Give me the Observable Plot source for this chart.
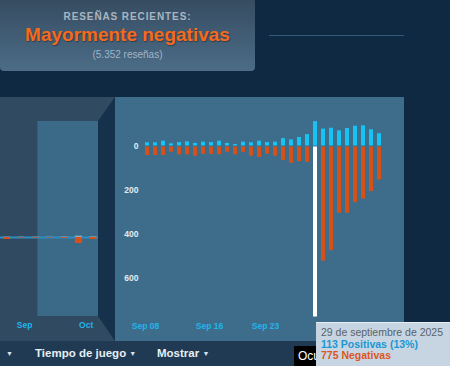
<!DOCTYPE html>
<html>
<head>
<meta charset="utf-8">
<script src="https://cdn.jsdelivr.net/npm/d3@7"></script>
<script src="https://cdn.jsdelivr.net/npm/@observablehq/plot@0.6"></script>
<style>
  html, body { margin: 0; padding: 0; }
  body { width: 450px; height: 366px; overflow: hidden; position: relative; background: #0e2941; font-family: Arial, "Liberation Sans", sans-serif; }
  .abs { position: absolute; }
  #header { left: 0; top: -4px; width: 255px; height: 75px; border-radius: 4px;
    background: linear-gradient(to bottom, #354b5f, #4c6c87); text-align: center; }
  #h1 { position: absolute; left: 0; right: 0; top: 15px; font-size: 10px; font-weight: bold; letter-spacing: 0.9px; color: #a9b6c1; }
  #h2 { position: absolute; left: 0; right: 0; top: 28px; font-size: 19px; font-weight: bold; color: #f56a1c; text-shadow: 1px 1px 1px rgba(0,0,0,0.35); }
  #h3 { position: absolute; left: 0; right: 0; top: 53px; font-size: 10px; color: #9fb5c8; }
  #hline { left: 269px; top: 35px; width: 135px; height: 1px; background: #2e5a7c; }
  #leftbg { left: 0; top: 97px; width: 115px; height: 244px; background: #2f4a61; }
  #trap { left: 98px; top: 97px; width: 17px; height: 244px; background: #15314c;
    clip-path: polygon(0px 24px, 17px 0px, 17px 244px, 0px 219px); }
  #overview { left: 0; top: 97px; }
  #main { left: 115px; top: 97px; }
  #toolbar { left: 0; top: 341px; width: 450px; height: 25px; background: #1f3a52; color: #e8eef3; font-size: 11.5px; }
  #toolbar span { position: absolute; top: 6px; white-space: nowrap; font-weight: bold; }
  .arr { font-size: 7px; color: #d8e2ea; vertical-align: 1px; }
  #ocu { left: 294px; top: 346px; width: 30px; height: 20px; background: #000; color: #fff; font-size: 12px; }
  #ocu span { position: absolute; left: 4px; top: 3px; }
  #tip { left: 316px; top: 322px; width: 134px; height: 44px; background: #c6d5e1; border-top: 1px solid #e6eef4;
    box-sizing: border-box; padding: 4px 0 0 5px; font-size: 10.5px; line-height: 11.5px; white-space: nowrap; }
  #tip .d { color: #58636d; }
  #tip .p { color: #1b97d4; font-weight: bold; }
  #tip .n { color: #dd571c; font-weight: bold; }
  .mainplot text { font-weight: bold; }
  .ovplot text { font-weight: bold; }
</style>
</head>
<body>
<div id="header" class="abs">
  <div id="h1"></div>
  <div id="h2"></div>
  <div id="h3"></div>
</div>
<div id="hline" class="abs"></div>
<div id="leftbg" class="abs"></div>
<div id="overview" class="abs"></div>
<div id="trap" class="abs"></div>
<div id="main" class="abs"></div>
<div id="toolbar" class="abs"></div>
<div id="ocu" class="abs"><span>Ocu</span></div>
<div id="tip" class="abs"></div>
<script>
// ---- Texts ----
const headerLabel = "RESEÑAS RECIENTES:";
const headerRating = "Mayormente negativas";
const headerCount = "(5.352 reseñas)";
const toolbarItems = ["", "Tiempo de juego", "Mostrar"];
const monthsEs = ["enero","febrero","marzo","abril","mayo","junio","julio","agosto","septiembre","octubre","noviembre","diciembre"];

// ---- Daily data (main chart) ----
const dates = ["2025-09-08","2025-09-09","2025-09-10","2025-09-11","2025-09-12","2025-09-13","2025-09-14",
  "2025-09-15","2025-09-16","2025-09-17","2025-09-18","2025-09-19","2025-09-20","2025-09-21",
  "2025-09-22","2025-09-23","2025-09-24","2025-09-25","2025-09-26","2025-09-27","2025-09-28",
  "2025-09-29","2025-09-30","2025-10-01","2025-10-02","2025-10-03","2025-10-04","2025-10-05",
  "2025-10-06","2025-10-07"];
const positive = [17,17,24,12,18,21,14,20,18,24,14,9,20,17,24,18,20,36,30,41,54,113,79,83,71,82,92,94,76,58];
const negative = [41,41,41,26,38,38,44,36,36,38,26,38,27,44,50,35,44,64,76,69,72,775,521,473,303,303,255,239,205,152];
const highlightDate = "2025-09-29";
const xTicks = ["2025-09-08","2025-09-16","2025-09-23"];
const xTickLabels = ["Sep 08","Sep 16","Sep 23"];
const yTicks = [0, 200, 400, 600];

// ---- Overview (weekly) ----
const overviewWeeks = ["2025-08-24","2025-08-31","2025-09-07","2025-09-14","2025-09-21","2025-09-28","2025-10-05"];
const overviewPositive = [150, 110, 120, 120, 200, 600, 250];
const overviewNegative = [900, 250, 270, 250, 380, 2700, 900];
const selection = ["2025-09-08", "2025-10-08"];
const overviewTicks = ["2025-09-01", "2025-10-01"];
const overviewTickLabels = ["Sep", "Oct"];

document.getElementById("h1").textContent = headerLabel;
document.getElementById("h2").textContent = headerRating;
document.getElementById("h3").textContent = headerCount;

// ---- Main chart ----
const rows = dates.map((d, i) => ({date: d, pos: positive[i], neg: negative[i]}));
const main = Plot.plot({
  width: 289, height: 244,
  marginLeft: 25.5, marginRight: 18, marginTop: 5, marginBottom: 19,
  style: {background: "#3e6d8c", fontFamily: "Arial, 'Liberation Sans', sans-serif", overflow: "visible"},
  x: {type: "band", domain: dates, paddingInner: 0.47, paddingOuter: 0.25, label: null},
  y: {domain: [-800, 200], label: null},
  marks: [
    Plot.barY(rows, {x: "date", y: "pos", fill: "#18c3f3", insetBottom: 0.5}),
    Plot.barY(rows.filter(r => r.date !== highlightDate), {x: "date", y: r => -r.neg, fill: "#d4511a", insetTop: 0.5}),
    Plot.barY(rows.filter(r => r.date === highlightDate), {x: "date", y: r => -r.neg, fill: "#ffffff", insetTop: 0.5}),
    Plot.axisY({ticks: yTicks.map(v => -v), tickFormat: v => String(Math.abs(v)), tickSize: 0, tickPadding: 2.5,
      fill: "#e4ebf0", fontSize: 8.5, label: null}),
    Plot.axisX({ticks: xTicks, tickFormat: d => xTickLabels[xTicks.indexOf(d)], tickSize: 0, tickPadding: 0,
      fill: "#1fb5ec", fontSize: 8.5, dx: -2, label: null})
  ]
});
main.classList.add("mainplot");
document.getElementById("main").appendChild(main);

// ---- Overview chart ----
const dayMs = 86400000;
const ovStart = new Date(Date.UTC(2025, 8, 1) - 11.22 * dayMs);
const ovEnd = new Date(Date.UTC(2025, 9, 8));
const ovRows = overviewWeeks.map((w, i) => ({week: new Date(w), pos: overviewPositive[i], neg: overviewNegative[i]}));
const ov = Plot.plot({
  width: 99, height: 244,
  marginLeft: 0, marginRight: 0, marginTop: 24, marginBottom: 25,
  style: {background: "transparent", fontFamily: "Arial, 'Liberation Sans', sans-serif", overflow: "visible"},
  x: {type: "utc", domain: [ovStart, ovEnd], label: null},
  y: {domain: [-35550, 52200], axis: null},
  marks: [
    Plot.rect([selection], {x1: s => new Date(s[0]), x2: s => new Date(s[1]), fill: "#3b6a89"}),
    Plot.ruleY([0], {stroke: "#2a8fc6", strokeWidth: 2}),
    Plot.rectY(ovRows, {x1: d => new Date(+d.week - 1.75 * dayMs), x2: d => new Date(+d.week + 1.75 * dayMs), y: d => d.pos, fill: "#8fb0c4"}),
    Plot.rectY(ovRows, {x1: d => new Date(+d.week - 1.75 * dayMs), x2: d => new Date(+d.week + 1.75 * dayMs), y: d => -d.neg, fill: "#d4511a"}),
    Plot.axisX({ticks: overviewTicks.map(t => new Date(t)), tickFormat: (d, i) => overviewTickLabels[i], tickSize: 0, tickPadding: 5,
      fill: "#1fb5ec", fontSize: 8.5, dx: 1, label: null})
  ]
});
ov.classList.add("ovplot");
document.getElementById("overview").appendChild(ov);

// ---- Toolbar ----
const tb = document.getElementById("toolbar");
const tbX = [6, 35, 157];
toolbarItems.forEach((t, i) => {
  const s = document.createElement("span");
  s.style.left = tbX[i] + "px";
  s.innerHTML = (t ? t + " " : "") + '<span class="arr" style="position:static">▼</span>';
  tb.appendChild(s);
});

// ---- Tooltip ----
const hi = dates.indexOf(highlightDate);
const hd = new Date(highlightDate);
const pct = Math.round(positive[hi] / (positive[hi] + negative[hi]) * 100);
document.getElementById("tip").innerHTML =
  `<div class="d">${hd.getUTCDate()} de ${monthsEs[hd.getUTCMonth()]} de ${hd.getUTCFullYear()}</div>` +
  `<div class="p">${positive[hi]} Positivas (${pct}%)</div>` +
  `<div class="n">${negative[hi]} Negativas</div>`;
</script>
</body>
</html>
